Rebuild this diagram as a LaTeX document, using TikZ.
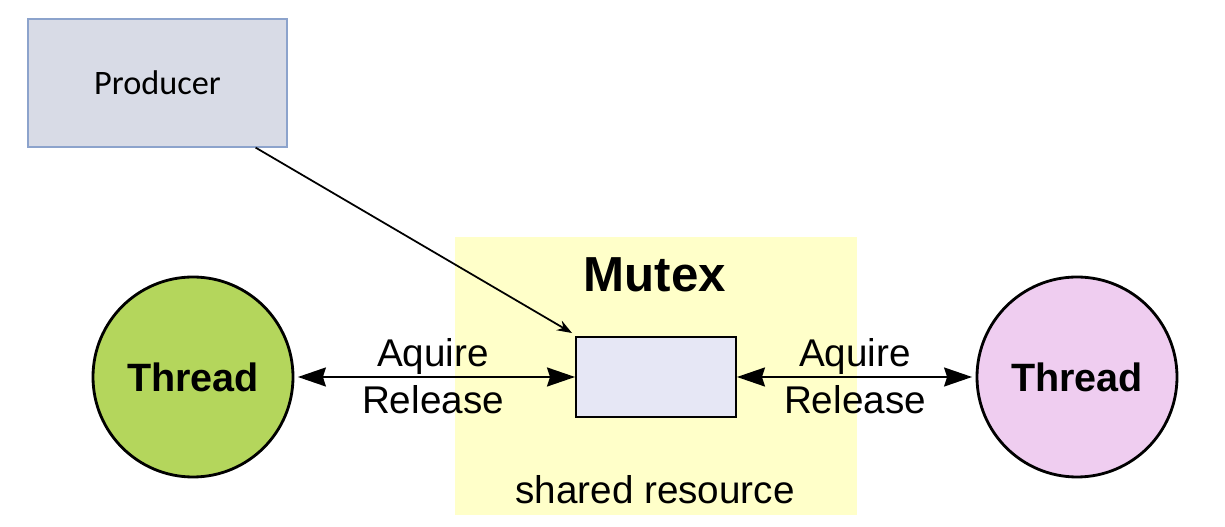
\documentclass[tikz,border=0pt]{standalone}
\usepackage{fontspec}
\setmainfont{Liberation Sans}
\newfontfamily\calibrifont{Carlito}
\usetikzlibrary{arrows.meta, positioning, calc}
\definecolor{prodfill}{HTML}{D8DBE6}
\definecolor{prodline}{HTML}{8CA3CC}
\definecolor{mutexbg}{HTML}{FFFFC9}
\definecolor{lockfill}{HTML}{E6E7F5}
\definecolor{threadA}{HTML}{B4D65C}
\definecolor{threadB}{HTML}{EFCDF0}

\begin{document}
\begin{tikzpicture}[
    every node/.style={align=center},
    prodbox/.style={draw=prodline, fill=prodfill, line width=0.7pt, minimum width=5.18cm, minimum height=2.56cm, font=\calibrifont\fontsize{19.5}{23}\selectfont},
    lockbox/.style={draw=black, fill=lockfill, line width=1.1pt, minimum width=3.2cm, minimum height=1.6cm},
    threadnode/.style={circle, draw=black, line width=1.6pt, minimum size=4cm, font=\bfseries\fontsize{22.5}{26}\selectfont},
    oplabel/.style={font=\fontsize{22}{27}\selectfont},
    link/.style={{Stealth[length=0.56cm,width=0.38cm,inset=0.06cm]}-{Stealth[length=0.56cm,width=0.38cm,inset=0.06cm]}, line width=1.1pt, shorten <=2pt},
]
\useasboundingbox (0,0) rectangle (24.5,10.54);

% ================= SHARED RESOURCE =================
\fill[mutexbg] (9.1,0.24) rectangle (17.14,5.8);
\node[font=\bfseries\fontsize{28}{32}\selectfont] (title) at (13.1,5.04) {Mutex};
\node[lockbox] (lock) at (13.12,3.0) {};
\node[oplabel] (shared) at (13.1,0.74) {shared resource};

% ================= PRODUCER =================
\node[prodbox] (producer) at (3.15,8.88) {Producer};
\draw[-{Stealth[length=0.3cm,width=0.22cm]}, line width=1pt] ([xshift=-0.64cm]producer.south east) -- ([shift={(-0.06cm,0.06cm)}]lock.north west);

% ================= THREADS =================
\node[threadnode, fill=threadA] (tleft) at (3.86,3.0) {Thread};
\node[threadnode, fill=threadB] (tright) at (21.54,3.0) {Thread};

\draw[link] (tleft) -- (lock);
\draw[link, shorten <=0pt, shorten >=2pt] (lock) -- (tright);
\node[oplabel] (opleft) at (8.66,3.02) {Aquire\\Release};
\node[oplabel] (opright) at (17.1,3.02) {Aquire\\Release};

\end{tikzpicture}
\end{document}
